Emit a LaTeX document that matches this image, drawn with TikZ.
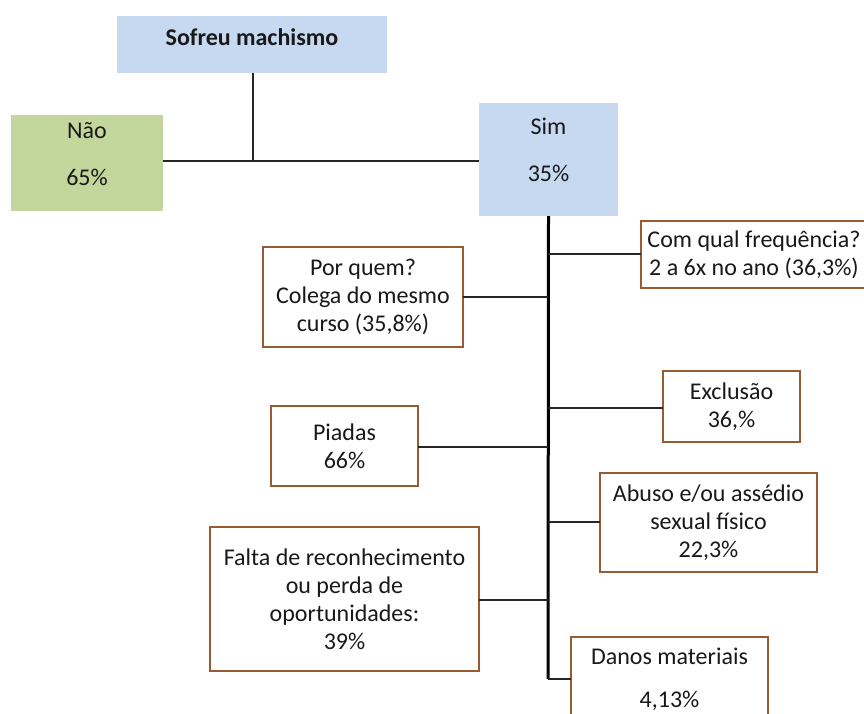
\documentclass[tikz,border=0pt]{standalone}
\usepackage{fontspec}
\setmainfont{Carlito}
\definecolor{boxblue}{RGB}{198,217,240}
\definecolor{boxgreen}{RGB}{195,214,155}
\definecolor{boxbrown}{RGB}{152,92,52}
\begin{document}
\begin{tikzpicture}[x=1pt,y=-1pt,
  every node/.style={inner sep=0pt,outer sep=0pt},
  bluebox/.style={fill=boxblue},
  greenbox/.style={fill=boxgreen},
  brownbox/.style={draw=boxbrown,line width=2pt,fill=white},
  txt/.style={font=\fontsize{24}{28}\selectfont,align=center,text=black!90},
  conn/.style={line width=2pt,black!85},
  trunk/.style={line width=3pt,black}]
\useasboundingbox (0,0) rectangle (864,713);
\clip (0,0) rectangle (864,713);
% top boxes
\node[bluebox,minimum width=270pt,minimum height=57pt] (top) at (252,44.5) {};
\node[txt,font=\fontsize{24}{28}\selectfont\bfseries] (toptxt) at (252,37) {Sofreu machismo};
\node[greenbox,minimum width=152pt,minimum height=96pt] (nao) at (87,163) {};
\node[txt] (naoa) at (87,131) {Não};
\node[txt] (naob) at (87,177) {65\%};
\node[bluebox,minimum width=139pt,minimum height=113pt] (sim) at (548.5,159.5) {};
\node[txt] (sima) at (548.5,126) {Sim};
\node[txt] (simb) at (548.5,173) {35\%};
\coordinate (j) at (253,161);
\draw[conn] (top.south -| j) -- (j);
\draw[conn] (nao.east |- j) -- (j) -- (sim.west |- j);
% branch boxes
\node[brownbox,minimum width=226pt,minimum height=67pt,txt] (freq) at (754,254.5) {Com qual frequência?\\2 a 6x no ano (36,3\%)};
\node[brownbox,minimum width=200pt,minimum height=100pt,txt] (quem) at (363,297) {Por quem?\\Colega do mesmo\\curso (35,8\%)};
\node[brownbox,minimum width=137pt,minimum height=71pt,txt] (excl) at (731.5,406.5) {Exclusão\\36,\%};
\node[brownbox,minimum width=147pt,minimum height=80pt,txt] (piad) at (344.5,446) {Piadas\\66\%};
\node[brownbox,minimum width=217pt,minimum height=99pt,txt] (abus) at (708.5,522.5) {Abuso e/ou assédio\\sexual físico\\22,3\%};
\node[brownbox,minimum width=269pt,minimum height=144pt,txt] (falt) at (344.5,599) {Falta de reconhecimento\\ou perda de\\oportunidades:\\39\%};
\node[brownbox,minimum width=197pt,minimum height=110pt] (dano) at (669.5,692) {};
\node[txt] (danoa) at (669.5,656) {Danos materiais};
\node[txt] (danob) at (669.5,701) {4,13\%};
% trunk
\coordinate (tb) at (548,679);
\draw[trunk] (sim.south) -- (tb);
\draw[conn] (548,254) -- (freq.west |- 548,254);
\draw[conn] (548,297) -- (quem.east);
\draw[conn] (548,408) -- (excl.west |- 548,408);
\draw[conn] (548,447) -- (piad.east |- 548,447);
\draw[conn] (548,522) -- (abus.west |- 548,522);
\draw[conn] (548,600) -- (falt.east |- 548,600);
\draw[conn] (tb) -- (dano.west |- tb);
\end{tikzpicture}
\end{document}
